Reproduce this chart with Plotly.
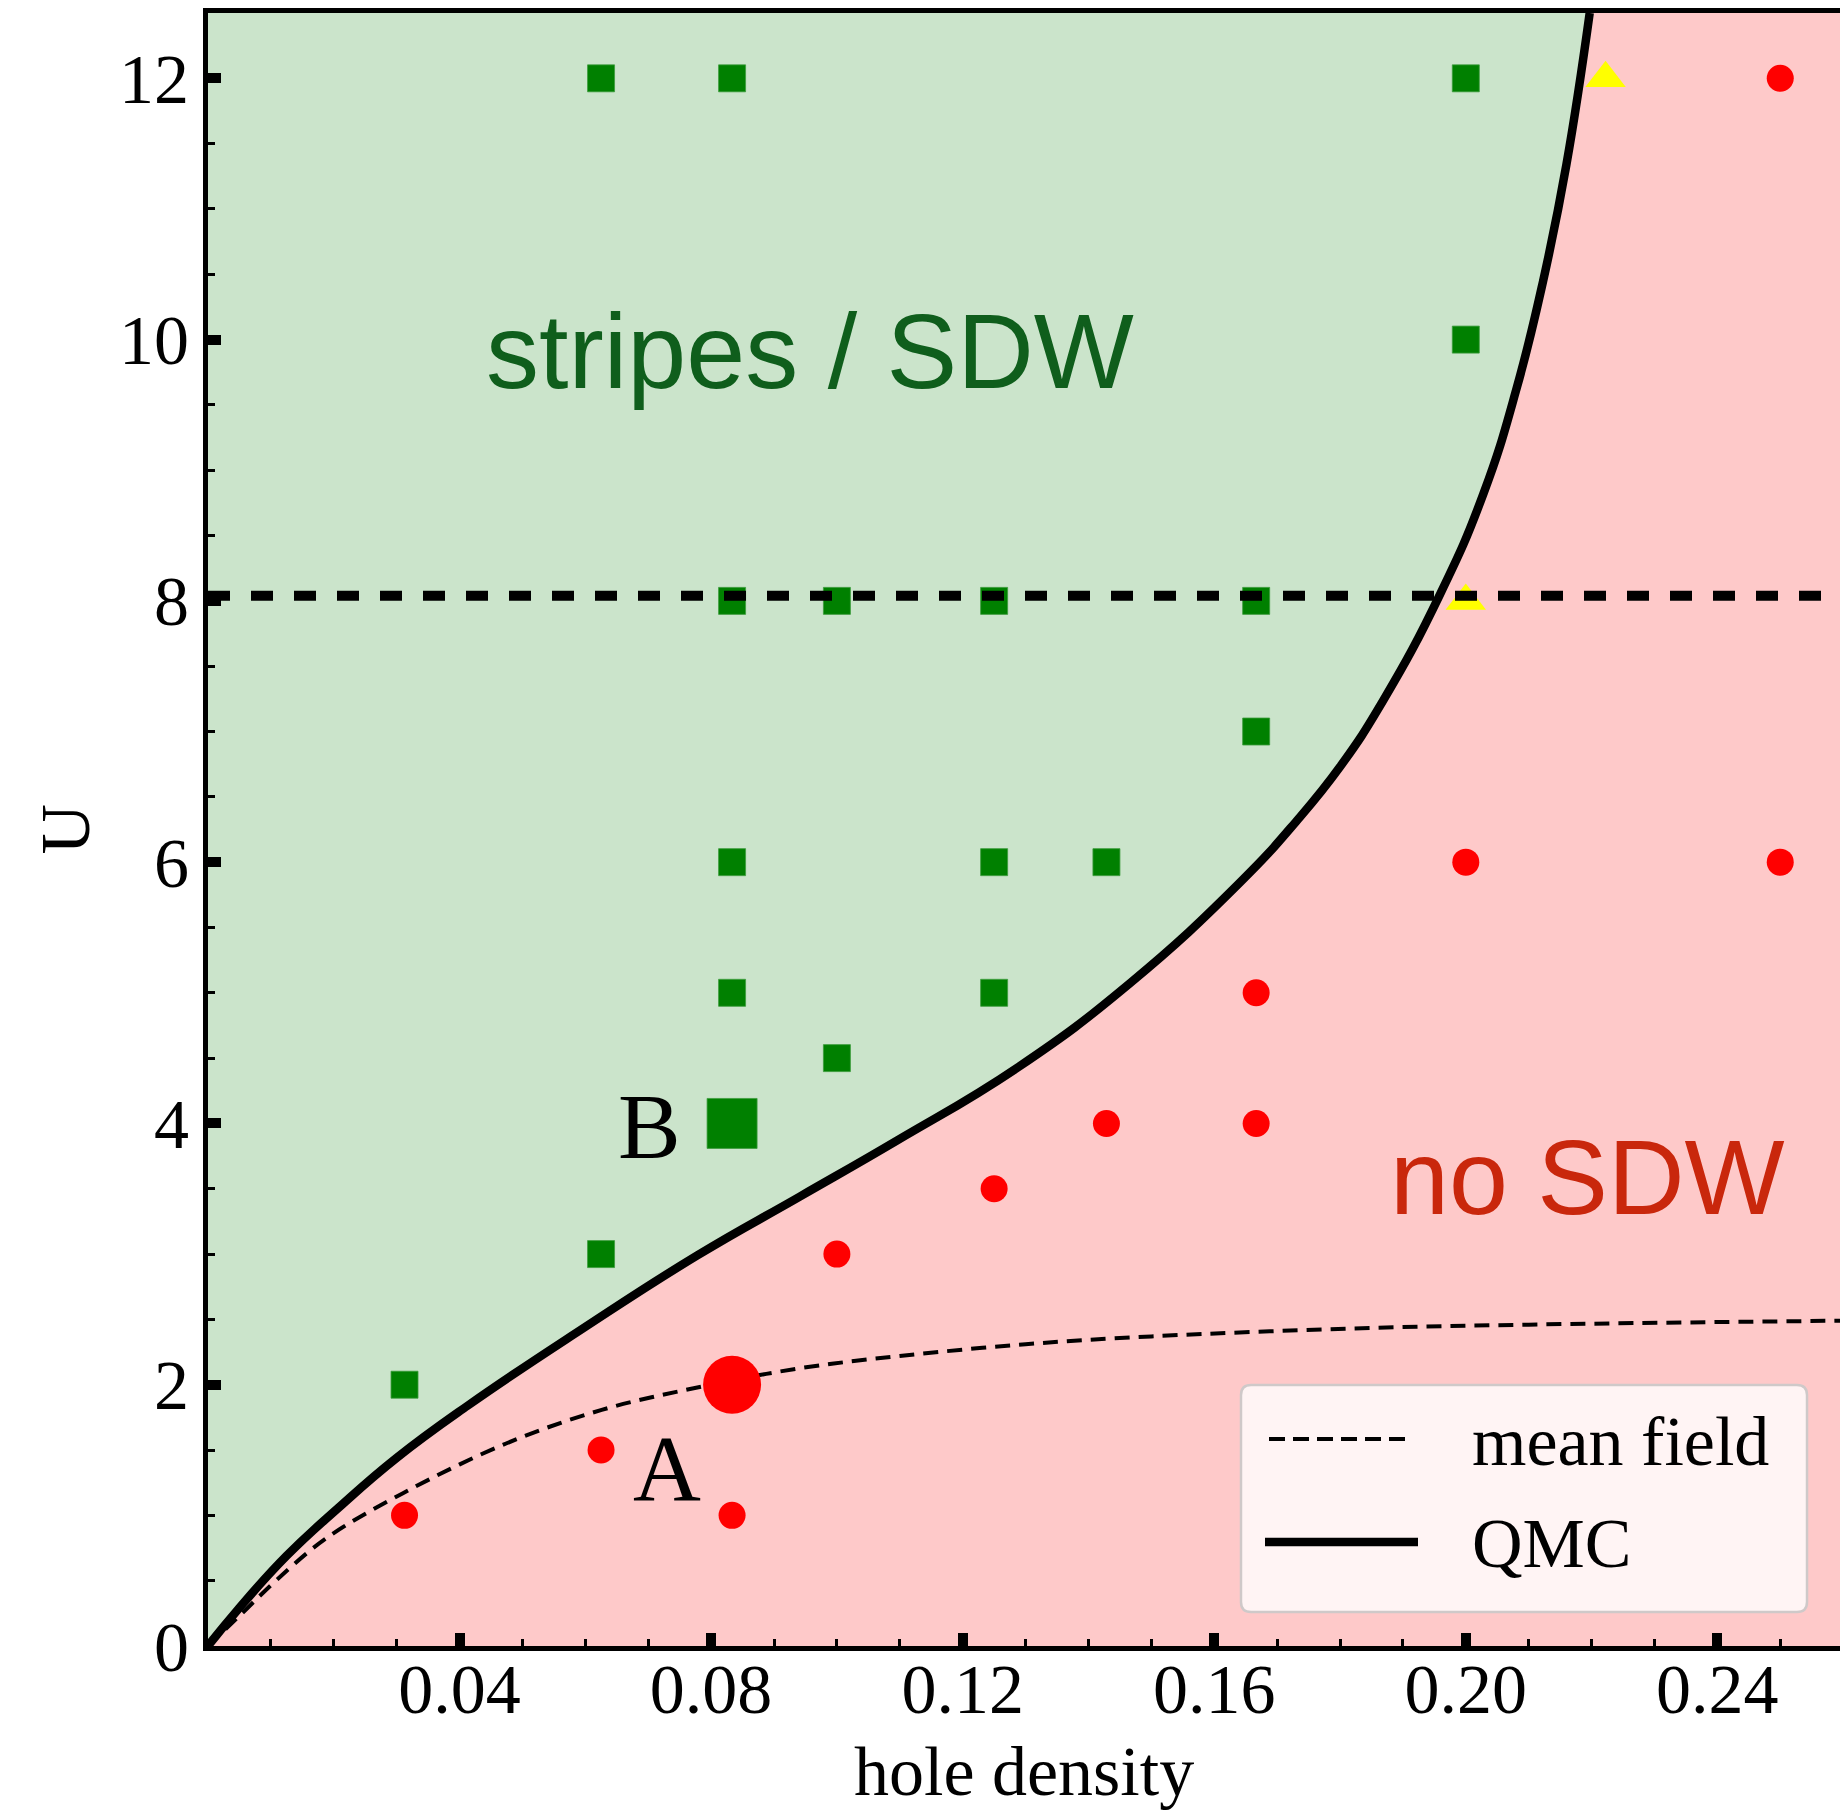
import plotly.graph_objects as go

# ---------------- data ----------------
# QMC phase boundary (hole density, U)
qmc_x = [0, 0.0046, 0.0125, 0.0208, 0.0300, 0.0413, 0.0596, 0.0778, 0.0941, 0.1096, 0.1288,
         0.1465, 0.1642, 0.1730, 0.1800, 0.1869, 0.1959, 0.2028, 0.2081, 0.2123, 0.2160, 0.2197]
qmc_y = [0, 0.27, 0.69, 1.06, 1.44, 1.84, 2.43, 2.99, 3.44, 3.87, 4.43,
         5.07, 5.85, 6.31, 6.73, 7.24, 8.05, 8.82, 9.63, 10.45, 11.34, 12.5]

# mean-field boundary
mf_x = [0, 0.0052, 0.0109, 0.0188, 0.031, 0.0474, 0.0626, 0.0784, 0.0941, 0.11,
        0.13, 0.15, 0.1816, 0.21, 0.2595]
mf_y = [0, 0.24, 0.505, 0.825, 1.17, 1.55, 1.807, 1.985, 2.126, 2.22,
        2.31, 2.37, 2.43, 2.46, 2.49]

# stripes / SDW points (green squares)
sdw_x = [1/16, 1/12, 0.2, 0.2, 1/12, 0.1, 0.125, 1/6, 1/6, 1/12, 0.125, 1/7, 1/12, 0.125, 0.1, 1/16, 1/32]
sdw_y = [12, 12, 12, 10, 8, 8, 8, 8, 7, 6, 6, 6, 5, 5, 4.5, 3, 2]
b_x = [1/12]
b_y = [4]

# no-SDW points (red circles)
nosdw_x = [0.25, 0.2, 0.25, 1/6, 1/7, 1/6, 0.125, 0.1, 1/16, 1/32, 1/12]
nosdw_y = [12, 6, 6, 5, 4, 4, 3.5, 3, 1.5, 1, 1]
a_x = [1/12]
a_y = [2]

# undecided points (yellow triangles)
tri_x = [2/9, 0.2]
tri_y = [12, 8]

# horizontal reference line
u_ref = 8.04

x_range = [0, 0.2595]
y_range = [0, 12.5]
x_tickvals = [0, 0.04, 0.08, 0.12, 0.16, 0.20, 0.24]
x_ticktext = ['', '0.04', '0.08', '0.12', '0.16', '0.20', '0.24']
y_tickvals = [0, 2, 4, 6, 8, 10, 12]
y_ticktext = ['0', '2', '4', '6', '8', '10', '12']

SERIF = 'Liberation Serif, Times New Roman, serif'
SANS = 'Liberation Sans, Arial, Helvetica, sans-serif'

fig = go.Figure()

# green region (above QMC boundary)
fig.add_trace(go.Scatter(
    x=qmc_x + [x_range[0]], y=qmc_y + [y_range[1]],
    mode='lines', fill='toself', fillcolor='#cbe4cb',
    line=dict(width=0, color='rgba(0,0,0,0)'), hoverinfo='skip'))

# mean field
fig.add_trace(go.Scatter(x=mf_x, y=mf_y, mode='lines', name='mean field',
                         line=dict(color='black', width=4, dash='15px,9px', shape='spline', smoothing=1.0)))
# QMC
fig.add_trace(go.Scatter(x=qmc_x, y=qmc_y, mode='lines', name='QMC',
                         line=dict(color='black', width=8.5, shape='spline', smoothing=1.3)))

# markers
fig.add_trace(go.Scatter(x=sdw_x, y=sdw_y, mode='markers',
                         marker=dict(symbol='square', size=27, color='#008000',
                                     line=dict(width=0.8, color='#3c9c3c'))))
fig.add_trace(go.Scatter(x=b_x, y=b_y, mode='markers',
                         marker=dict(symbol='square', size=50, color='#008000',
                                     line=dict(width=0.8, color='#3c9c3c'))))
fig.add_trace(go.Scatter(x=nosdw_x, y=nosdw_y, mode='markers',
                         marker=dict(symbol='circle', size=27, color='#ff0000', line=dict(width=0))))
fig.add_trace(go.Scatter(x=a_x, y=a_y, mode='markers',
                         marker=dict(symbol='circle', size=58, color='#ff0000', line=dict(width=0))))
fig.add_trace(go.Scatter(x=tri_x, y=tri_y, mode='markers',
                         marker=dict(symbol='triangle-up', size=35, color='#ffff00', line=dict(width=0))))

# horizontal dashed line at U ~ 8
fig.add_trace(go.Scatter(x=x_range, y=[u_ref, u_ref], mode='lines',
                         line=dict(color='black', width=10, dash='22px,21px')))

# ---------------- annotations ----------------
ann = []
ann.append(dict(x=0.0957, y=9.91, xref='x', yref='y', text='stripes / SDW', showarrow=False,
                font=dict(family=SANS, size=106, color='#0f5e1c'), xanchor='center', yanchor='middle'))
ann.append(dict(x=0.2193, y=3.59, xref='x', yref='y', text='no SDW', showarrow=False,
                font=dict(family=SANS, size=106, color='#c9270c'), xanchor='center', yanchor='middle'))
ann.append(dict(x=0.0702, y=3.98, xref='x', yref='y', text='B', showarrow=False,
                font=dict(family=SERIF, size=94, color='black'), xanchor='center', yanchor='middle'))
ann.append(dict(x=0.0730, y=1.36, xref='x', yref='y', text='A', showarrow=False,
                font=dict(family=SERIF, size=94, color='black'), xanchor='center', yanchor='middle'))
# axis titles
ann.append(dict(x=0.5, y=-125/1633, xref='paper', yref='paper', text='hole density', showarrow=False,
                font=dict(family=SERIF, size=70, color='black'), xanchor='center', yanchor='middle'))
ann.append(dict(x=(65-208)/1632, y=0.5, xref='paper', yref='paper', text='U', showarrow=False, textangle=-90,
                font=dict(family=SERIF, size=70, color='black'), xanchor='center', yanchor='middle'))

# ---------------- custom legend box ----------------
PW, PH = 1632.0, 1633.0
def px(X):
    return (X - 208) / PW
def py(Y):
    return (1646 - Y) / PH

lx0, lx1 = px(1241), px(1807)
ly0, ly1 = py(1612), py(1385)
rx, ry = 10 / PW, 10 / PH
path = (f'M {lx0+rx},{ly0} L {lx1-rx},{ly0} Q {lx1},{ly0} {lx1},{ly0+ry} '
        f'L {lx1},{ly1-ry} Q {lx1},{ly1} {lx1-rx},{ly1} '
        f'L {lx0+rx},{ly1} Q {lx0},{ly1} {lx0},{ly1-ry} '
        f'L {lx0},{ly0+ry} Q {lx0},{ly0} {lx0+rx},{ly0} Z')
shapes = [
    dict(type='path', xref='paper', yref='paper', path=path,
         fillcolor='rgba(255,255,255,0.8)', line=dict(color='#cfc9c9', width=2.5), layer='above'),
    dict(type='line', xref='paper', yref='paper', x0=px(1269), x1=px(1413), y0=py(1439), y1=py(1439),
         line=dict(color='black', width=4, dash='16px,8px'), layer='above'),
    dict(type='line', xref='paper', yref='paper', x0=px(1265), x1=px(1418), y0=py(1542), y1=py(1542),
         line=dict(color='black', width=8.5), layer='above'),
]
ann.append(dict(x=px(1470), y=py(1441), xref='paper', yref='paper', text='mean field', showarrow=False,
                font=dict(family=SERIF, size=70, color='black'), xanchor='left', yanchor='middle'))
ann.append(dict(x=px(1470), y=py(1543), xref='paper', yref='paper', text='QMC', showarrow=False,
                font=dict(family=SERIF, size=70, color='black'), xanchor='left', yanchor='middle'))

fig.update_layout(
    width=1840, height=1813,
    margin=dict(l=208, r=0, t=13, b=167),
    plot_bgcolor='#fec9c9', paper_bgcolor='white',
    showlegend=False,
    annotations=ann, shapes=shapes,
)

axis_common = dict(showgrid=False, zeroline=False, showline=True, linecolor='black', linewidth=5,
                   ticks='inside', ticklen=13, tickwidth=10, tickcolor='black',
                   tickfont=dict(family=SERIF, size=70, color='black'))
fig.update_xaxes(range=x_range, tickmode='array', tickvals=x_tickvals, ticktext=x_ticktext,
                 mirror=True, ticklabelstandoff=-22,
                 minor=dict(ticks='inside', ticklen=7, tickwidth=2.5, tickcolor='black', dtick=0.01, tick0=0),
                 **axis_common)
fig.update_yaxes(range=y_range, tickmode='array', tickvals=y_tickvals, ticktext=y_ticktext,
                 mirror=False,
                 minor=dict(ticks='inside', ticklen=7, tickwidth=2.5, tickcolor='black', dtick=0.5, tick0=0),
                 **axis_common)

fig.write_html('out.html')
